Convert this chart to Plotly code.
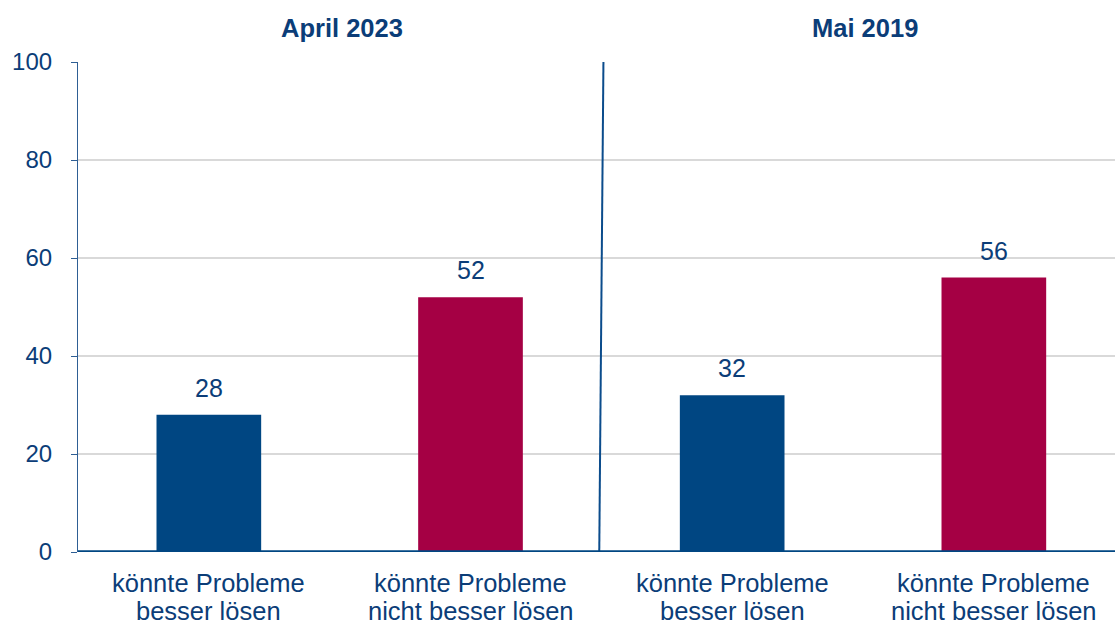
import plotly.graph_objects as go

categories = ["könnte Probleme<br>besser lösen", "könnte Probleme<br>nicht besser lösen",
              "könnte Probleme<br>besser lösen", "könnte Probleme<br>nicht besser lösen"]
values = [28, 52, 32, 56]
bar_colors = ["#004682", "#A50044", "#004682", "#A50044"]
group_titles = ["April 2023", "Mai 2019"]
y_ticks = [0, 20, 40, 60, 80, 100]

TXT = "#0B3D78"
FONT = "Liberation Sans, Arial"
xpos = list(range(len(values)))

fig = go.Figure()
fig.add_trace(go.Bar(
    x=xpos, y=values, marker=dict(color=bar_colors, line=dict(width=0)),
    width=0.4, showlegend=False, hoverinfo="x+y",
))

# value labels above bars
for x, v in zip(xpos, values):
    fig.add_annotation(x=x, y=v, xref="x", yref="y", yanchor="middle", yshift=27,
                       text=str(v), showarrow=False,
                       font=dict(size=25, color=TXT, family=FONT))

# category labels (two lines, tight spacing)
for x, c in zip(xpos, categories):
    for k, line in enumerate(c.split("<br>")):
        fig.add_annotation(x=x, y=0, xref="x", yref="y", yanchor="middle",
                           yshift=-(31 + 28 * k), text=line, showarrow=False,
                           font=dict(size=25.5, color=TXT, family=FONT))

# group titles
for i, t in enumerate(group_titles):
    fig.add_annotation(x=2 * i + 0.5, y=1.0, xref="x", yref="paper", yanchor="middle",
                       yshift=34, xshift=2, text=f"<b>{t}</b>", showarrow=False,
                       font=dict(size=25.5, color=TXT, family=FONT))

# separator line between groups
fig.add_shape(type="line", xref="x", yref="y", x0=1.492, y0=0, x1=1.508, y1=100,
              line=dict(color="#0B4C8C", width=2), layer="above")
# baseline
fig.add_shape(type="line", xref="paper", yref="y", x0=0, y0=0, x1=1, y1=0,
              line=dict(color="#004682", width=3.5), layer="above")

fig.update_layout(
    width=1115, height=626,
    margin=dict(l=78, r=0, t=62, b=74),
    plot_bgcolor="white", paper_bgcolor="white",
    font=dict(family=FONT, color=TXT, size=20),
    bargap=0.6,
)
fig.update_xaxes(
    range=[-0.5, 3.463], tickvals=xpos, showticklabels=False,
    showgrid=False, zeroline=False, showline=False, ticks="", automargin=False,
)
fig.update_yaxes(
    range=[0, 100], tickvals=y_ticks, showgrid=True, gridcolor="#D9D9D9", gridwidth=2,
    zeroline=False, showline=True, linecolor="#2E5E94", linewidth=1.2,
    ticks="outside", ticklen=6, tickcolor="#2E5E94", tickwidth=1.2,
    tickfont=dict(size=24, color=TXT), ticklabelstandoff=14, automargin=False,
)

fig.write_html("out.html", config={"displayModeBar": False},
               post_script="document.body.style.margin='0';")
